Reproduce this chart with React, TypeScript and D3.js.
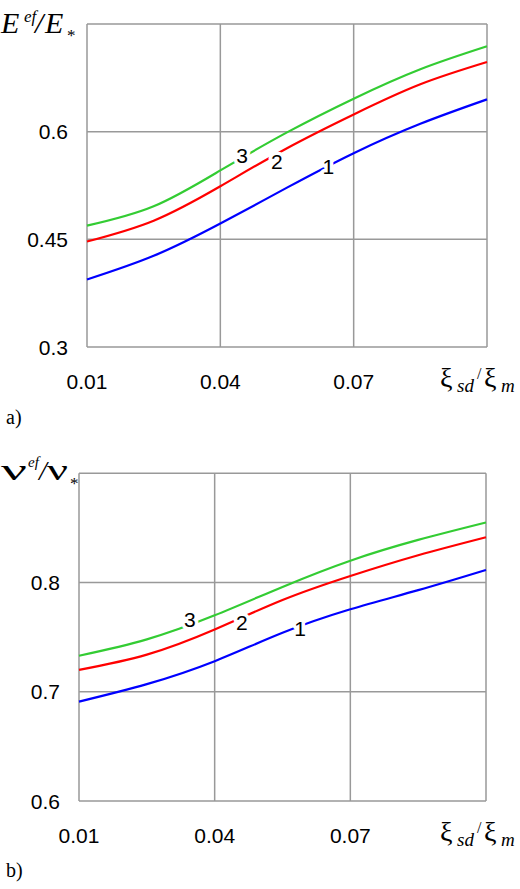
import React from "react";
import * as d3 from "d3";

const xValues = [0.01, 0.025, 0.04, 0.055, 0.07, 0.085, 0.1];
const xTicks = [0.01, 0.04, 0.07];
const xGrid = [0.01, 0.04, 0.07, 0.1];

const E1 = [0.394, 0.427, 0.472, 0.522, 0.57, 0.611, 0.645];
const E2 = [0.447, 0.476, 0.524, 0.577, 0.624, 0.666, 0.697];
const E3 = [0.469, 0.496, 0.546, 0.599, 0.646, 0.687, 0.719];
const eTicks = [0.3, 0.45, 0.6];
const eTickLabels = ["0.3", "0.45", "0.6"];

const N1 = [0.691, 0.707, 0.728, 0.754, 0.7755, 0.793, 0.8115];
const N2 = [0.72, 0.734, 0.757, 0.784, 0.806, 0.825, 0.8415];
const N3 = [0.733, 0.748, 0.77, 0.796, 0.82, 0.839, 0.855];
const nTicks = [0.6, 0.7, 0.8];
const nTickLabels = ["0.6", "0.7", "0.8"];

const curveNames = ["1", "2", "3"];
const eLabelX = [0.0643, 0.0527, 0.0449];
const eLabelY = [0.5516, 0.5586, 0.5665];
const nLabelX = [0.0589, 0.046, 0.0345];
const nLabelY = [0.7581, 0.7633, 0.7658];

const colors = ["#0000ff", "#ff0000", "#33cc33"];
const GRID = "#999999";
const SANS = "Liberation Sans, Arial, sans-serif";
const SERIF = "Liberation Serif, Times New Roman, serif";

type PanelProps = {
  x0: number;
  x1: number;
  yTop: number;
  yBottom: number;
  yDomain: [number, number];
  yTicks: number[];
  yTickLabels: string[];
  yLabelRight: number;
  series: number[][];
  labelX: number[];
  labelY: number[];
};

function Panel(p: PanelProps) {
  const xs = d3.scaleLinear().domain([0.01, 0.1]).range([p.x0, p.x1]);
  const ys = d3.scaleLinear().domain(p.yDomain).range([p.yBottom, p.yTop]);
  const line = d3
    .line<number>()
    .x((_, i) => xs(xValues[i]))
    .y((d) => ys(d))
    .curve(d3.curveNatural);
  const hGrid = [...p.yTicks, p.yDomain[1]];
  return (
    <g>
      {xGrid.map((v) => (
        <line key={"vx" + v} x1={xs(v)} x2={xs(v)} y1={p.yTop} y2={p.yBottom} stroke={GRID} strokeWidth={1.5} />
      ))}
      {hGrid.map((v) => (
        <line key={"hy" + v} x1={p.x0} x2={p.x1} y1={ys(v)} y2={ys(v)} stroke={GRID} strokeWidth={1.5} />
      ))}
      {p.series.map((s, i) => (
        <path key={"s" + i} d={line(s) || ""} fill="none" stroke={colors[i]} strokeWidth={2.2} />
      ))}
      {p.series.map((_, i) => (
        <text
          key={"l" + i}
          x={xs(p.labelX[i])}
          y={ys(p.labelY[i])}
          textAnchor="middle"
          dominantBaseline="central"
          fontFamily={SANS}
          fontSize={21}
          fill="#000"
          stroke="#fff"
          strokeWidth={7}
          paintOrder="stroke"
          strokeLinejoin="round"
        >
          {curveNames[i]}
        </text>
      ))}
      {p.yTicks.map((v, i) => (
        <text
          key={"yt" + v}
          x={p.yLabelRight}
          y={ys(v)}
          textAnchor="end"
          dominantBaseline="central"
          fontFamily={SANS}
          fontSize={21}
          fill="#000"
        >
          {p.yTickLabels[i]}
        </text>
      ))}
      {xTicks.map((v) => (
        <text
          key={"xt" + v}
          x={xs(v)}
          y={p.yBottom + 34}
          textAnchor="middle"
          dominantBaseline="central"
          fontFamily={SANS}
          fontSize={21}
          fill="#000"
        >
          {v.toFixed(2)}
        </text>
      ))}
      <XTitle x={440} y={p.yBottom + 40} />
    </g>
  );
}

function XTitle({ x, y }: { x: number; y: number }) {
  return (
    <g fontFamily={SERIF} fill="#000">
      <text x={x} y={y} fontSize={28}>ξ</text>
      <text x={x + 17} y={y + 5} fontSize={19} fontStyle="italic">sd</text>
      <text x={x + 37} y={y - 8} fontSize={16}>/</text>
      <text x={x + 44} y={y} fontSize={28}>ξ</text>
      <text x={x + 61} y={y + 5} fontSize={19} fontStyle="italic">m</text>
    </g>
  );
}

export default function App() {
  return (
    <svg
      width={520}
      height={889}
      style={{ position: "absolute", left: 0, top: 0, background: "#fff" }}
    >
      <rect x={0} y={0} width={520} height={889} fill="#fff" />
      <Panel
        x0={87}
        x1={487}
        yTop={24}
        yBottom={347}
        yDomain={[0.3, 0.75]}
        yTicks={eTicks}
        yTickLabels={eTickLabels}
        yLabelRight={68}
        series={[E1, E2, E3]}
        labelX={eLabelX}
        labelY={eLabelY}
      />
      <Panel
        x0={79}
        x1={486}
        yTop={473.3}
        yBottom={801}
        yDomain={[0.6, 0.9]}
        yTicks={nTicks}
        yTickLabels={nTickLabels}
        yLabelRight={60}
        series={[N1, N2, N3]}
        labelX={nLabelX}
        labelY={nLabelY}
      />
      {/* Y title a */}
      <g fontFamily={SERIF} fill="#000" fontStyle="italic">
        <text x={1} y={33} fontSize={30}>E</text>
        <text x={24} y={22} fontSize={17}>ef</text>
        <text x={35} y={33} fontSize={30}>/</text>
        <text x={45} y={33} fontSize={30}>E</text>
        <text x={67} y={41} fontSize={17} fontStyle="normal">*</text>
      </g>
      {/* Y title b */}
      <g fontFamily={SERIF} fill="#000">
        <text x={1} y={480} fontSize={30} textLength={26} lengthAdjust="spacingAndGlyphs">ν</text>
        <text x={28} y={467} fontSize={15} fontStyle="italic">ef</text>
        <text x={39} y={480} fontSize={28} fontStyle="italic">/</text>
        <text x={47} y={480} fontSize={30} textLength={21} lengthAdjust="spacingAndGlyphs">ν</text>
        <text x={70} y={489} fontSize={17}>*</text>
      </g>
      <text x={6} y={424} fontFamily={SERIF} fontSize={20} fill="#000">a)</text>
      <text x={6} y={877} fontFamily={SERIF} fontSize={20} fill="#000">b)</text>
    </svg>
  );
}
